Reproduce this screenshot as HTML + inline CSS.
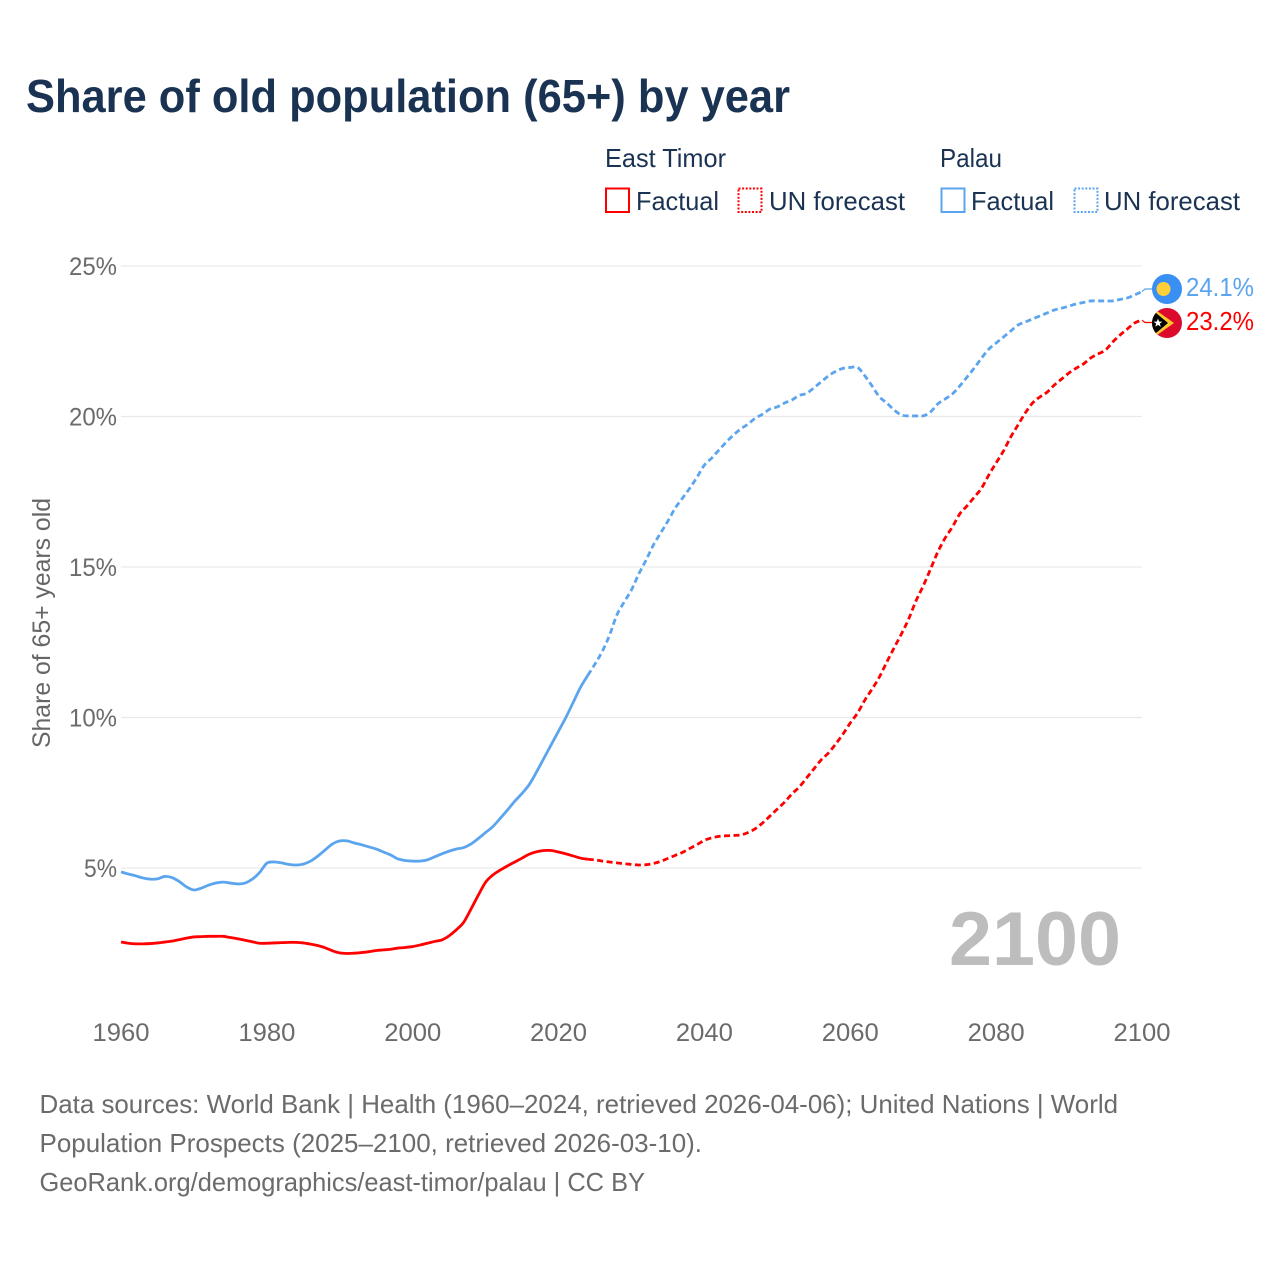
<!DOCTYPE html>
<html lang="en">
<head>
<meta charset="utf-8">
<title>Share of old population (65+) by year</title>
<style>
html,body{margin:0;padding:0;background:#fff;}
svg{display:block;}
text{font-family:"Liberation Sans",sans-serif;}
</style>
</head>
<body>
<svg id="chart" xmlns="http://www.w3.org/2000/svg" width="1280" height="1280" viewBox="0 0 1280 1280">
  <rect x="0" y="0" width="1280" height="1280" fill="#ffffff"/>
  <text x="26" y="112" font-size="46" font-weight="700" fill="#1a3353" textLength="764" lengthAdjust="spacingAndGlyphs">Share of old population (65+) by year</text>

  <g font-size="26" fill="#1a3353">
    <text x="605" y="167" textLength="121" lengthAdjust="spacingAndGlyphs">East Timor</text>
    <text x="940" y="167" textLength="62" lengthAdjust="spacingAndGlyphs">Palau</text>
    <rect x="606" y="188.5" width="23" height="23.5" fill="none" stroke="#ff0000" stroke-width="2"/>
    <text x="636" y="210" textLength="83" lengthAdjust="spacingAndGlyphs">Factual</text>
    <rect x="738.5" y="188.5" width="23" height="23.5" fill="none" stroke="#ff0000" stroke-width="2" stroke-dasharray="2 1.6"/>
    <text x="769" y="210" textLength="136" lengthAdjust="spacingAndGlyphs">UN forecast</text>
    <rect x="941.5" y="188.5" width="23" height="23.5" fill="none" stroke="#5ba4ee" stroke-width="2"/>
    <text x="971" y="210" textLength="83" lengthAdjust="spacingAndGlyphs">Factual</text>
    <rect x="1074.5" y="188.5" width="23" height="23.5" fill="none" stroke="#5ba4ee" stroke-width="2" stroke-dasharray="2 1.6"/>
    <text x="1104" y="210" textLength="136" lengthAdjust="spacingAndGlyphs">UN forecast</text>
  </g>

  <g id="grid"></g>
  <g id="yticks"></g>
  <g id="xticks"></g>
  <text transform="translate(50,623) rotate(-90)" text-anchor="middle" font-size="25" fill="#666666" textLength="250" lengthAdjust="spacingAndGlyphs">Share of 65+ years old</text>
  <text x="949" y="965" font-size="76" font-weight="700" fill="#bdbdbd" textLength="172" lengthAdjust="spacingAndGlyphs">2100</text>

  <g id="series"></g>

  <defs>
    <clipPath id="tl-clip"><circle cx="1167" cy="323" r="15"/></clipPath>
  </defs>
  <g>
    <circle cx="1167" cy="289" r="15" fill="#3a8ff2"/>
    <circle cx="1163.5" cy="289" r="7" fill="#ffcf3a"/>
  </g>
  <g clip-path="url(#tl-clip)">
    <rect x="1150" y="306" width="34" height="34" fill="#dc0a2c"/>
    <polygon points="1150,306 1174,323 1150,340" fill="#ffc72c"/>
    <polygon points="1150,308 1168,323 1150,338" fill="#000000"/>
    <polygon points="1158,318.5 1159.2,321.6 1162.5,321.6 1159.8,323.6 1160.8,326.8 1158,324.9 1155.2,326.8 1156.2,323.6 1153.5,321.6 1156.8,321.6" fill="#ffffff"/>
  </g>
  <text x="1186" y="296" font-size="26" fill="#5ba4ee" textLength="68" lengthAdjust="spacingAndGlyphs">24.1%</text>
  <text x="1186" y="330" font-size="26" fill="#ff0000" textLength="68" lengthAdjust="spacingAndGlyphs">23.2%</text>

  <g font-size="26" fill="#6b6b6b">
    <text x="39.5" y="1113" textLength="1078.5" lengthAdjust="spacingAndGlyphs">Data sources: World Bank | Health (1960–2024, retrieved 2026-04-06); United Nations | World</text>
    <text x="39.5" y="1152" textLength="662.5" lengthAdjust="spacingAndGlyphs">Population Prospects (2025–2100, retrieved 2026-03-10).</text>
    <text x="39.5" y="1191" textLength="605.5" lengthAdjust="spacingAndGlyphs">GeoRank.org/demographics/east-timor/palau | CC BY</text>
  </g>
</svg>
<script>
const startYear = 1960;
const lastFactualYear = 2024;
const yTickValues = [5, 10, 15, 20, 25];
const yTickLabels = ["5%", "10%", "15%", "20%", "25%"];
const xTickYears = [1960, 1980, 2000, 2020, 2040, 2060, 2080, 2100];
const palauValues = [
4.87,4.80,4.74,4.67,4.63,4.64,4.72,4.68,4.55,4.37,
4.27,4.33,4.43,4.50,4.53,4.50,4.47,4.50,4.63,4.85,
5.16,5.20,5.17,5.12,5.10,5.13,5.23,5.40,5.60,5.80,
5.90,5.90,5.83,5.77,5.70,5.63,5.53,5.43,5.30,5.25,
5.23,5.23,5.27,5.37,5.47,5.56,5.63,5.68,5.80,5.98,
6.18,6.38,6.65,6.93,7.22,7.48,7.78,8.20,8.65,9.10,
9.55,10.0,10.5,11.0,11.4,11.78,12.2,12.74,13.41,13.84,
14.24,14.77,15.23,15.73,16.13,16.53,16.96,17.29,17.62,17.99,
18.39,18.62,18.89,19.15,19.39,19.59,19.75,19.95,20.08,20.25,
20.32,20.45,20.55,20.7,20.77,20.95,21.15,21.35,21.5,21.6,
21.63,21.63,21.35,21.01,20.65,20.45,20.22,20.05,20.02,20.02,
20.02,20.15,20.42,20.58,20.75,21.01,21.31,21.61,21.94,22.24,
22.44,22.64,22.84,23.04,23.14,23.24,23.34,23.44,23.54,23.6,
23.67,23.74,23.79,23.84,23.84,23.84,23.84,23.89,23.94,24.04,
24.15];
const eastTimorValues = [
2.54,2.50,2.48,2.48,2.49,2.51,2.54,2.57,2.62,2.67,
2.71,2.72,2.73,2.73,2.73,2.69,2.65,2.60,2.55,2.50,
2.50,2.51,2.52,2.53,2.53,2.51,2.47,2.42,2.35,2.25,
2.18,2.16,2.17,2.19,2.22,2.26,2.28,2.30,2.34,2.36,
2.39,2.44,2.50,2.56,2.61,2.75,2.95,3.20,3.64,4.10,
4.53,4.77,4.93,5.07,5.20,5.33,5.46,5.54,5.58,5.58,
5.53,5.47,5.40,5.33,5.29,5.27,5.23,5.20,5.17,5.14,
5.12,5.10,5.11,5.15,5.22,5.32,5.42,5.52,5.65,5.78,
5.92,6.00,6.05,6.07,6.08,6.10,6.18,6.31,6.50,6.73,
6.96,7.19,7.46,7.69,7.99,8.29,8.59,8.82,9.12,9.45,
9.82,10.15,10.58,10.95,11.35,11.84,12.31,12.77,13.27,13.87,
14.37,14.93,15.5,15.96,16.33,16.76,17.03,17.32,17.62,18.06,
18.46,18.85,19.32,19.72,20.12,20.45,20.65,20.81,21.05,21.25,
21.45,21.61,21.75,21.95,22.08,22.21,22.48,22.71,22.91,23.11,
23.2];

const NS = "http://www.w3.org/2000/svg";
const xScale = function (year) { return 121 + (year - 1960) * (1021 / 140); };
const yScale = function (v) { return 1018.5 - v * 30.1; };

function make(tag, parent, attrs) {
  const el = document.createElementNS(NS, tag);
  for (const k in attrs) el.setAttribute(k, attrs[k]);
  parent.appendChild(el);
  return el;
}

function smoothPath(points) {
  let d = "M" + points[0][0].toFixed(2) + " " + points[0][1].toFixed(2);
  for (let i = 0; i < points.length - 1; i++) {
    const p0 = points[Math.max(i - 1, 0)];
    const p1 = points[i];
    const p2 = points[i + 1];
    const p3 = points[Math.min(i + 2, points.length - 1)];
    const c1x = p1[0] + (p2[0] - p0[0]) / 6;
    const c1y = p1[1] + (p2[1] - p0[1]) / 6;
    const c2x = p2[0] - (p3[0] - p1[0]) / 6;
    const c2y = p2[1] - (p3[1] - p1[1]) / 6;
    d += "C" + c1x.toFixed(2) + " " + c1y.toFixed(2) + " " + c2x.toFixed(2) + " " + c2y.toFixed(2) + " " + p2[0].toFixed(2) + " " + p2[1].toFixed(2);
  }
  return d;
}

function toPoints(values, from, to) {
  const pts = [];
  for (let yr = from; yr <= to; yr++) {
    pts.push([xScale(yr), yScale(values[yr - startYear])]);
  }
  return pts;
}

const gridGroup = document.getElementById("grid");
const yTickGroup = document.getElementById("yticks");
const xTickGroup = document.getElementById("xticks");
const seriesGroup = document.getElementById("series");

yTickValues.forEach(function (v, i) {
  const line = make("line", gridGroup, { x1: 121, x2: 1142, y1: yScale(v), y2: yScale(v), stroke: "#e9e9e9", "stroke-width": 1.2 });
  
  
  const label = make("text", yTickGroup, { x: 117, y: yScale(v) + 9, "text-anchor": "end", "font-size": 25, fill: "#6b6b6b", textLength: 33 + (yTickLabels[i].length - 2) * 15, lengthAdjust: "spacingAndGlyphs" });
  label.textContent = yTickLabels[i];
  
  
});

xTickYears.forEach(function (yr) {
  const label = make("text", xTickGroup, { x: xScale(yr), y: 1041, "text-anchor": "middle", "font-size": 25, fill: "#6b6b6b", textLength: 57, lengthAdjust: "spacingAndGlyphs" });
  label.textContent = String(yr);
  
  
});

const endYear = startYear + palauValues.length - 1;

const palauFactual = make("path", seriesGroup, { d: smoothPath(toPoints(palauValues, startYear, lastFactualYear)), fill: "none", stroke: "#5ba4ee", "stroke-width": 2.8, "stroke-linejoin": "round" });



const palauForecast = make("path", seriesGroup, { d: smoothPath(toPoints(palauValues, lastFactualYear, endYear)), fill: "none", stroke: "#5ba4ee", "stroke-width": 2.8, "stroke-dasharray": "6 3.5" });



const timorFactual = make("path", seriesGroup, { d: smoothPath(toPoints(eastTimorValues, startYear, lastFactualYear)), fill: "none", stroke: "#ff0000", "stroke-width": 2.8, "stroke-linejoin": "round" });



const timorForecast = make("path", seriesGroup, { d: smoothPath(toPoints(eastTimorValues, lastFactualYear, endYear)), fill: "none", stroke: "#ff0000", "stroke-width": 2.8, "stroke-dasharray": "6 3.5" });



const palauLead = make("path", seriesGroup, { d: "M" + xScale(endYear) + " " + yScale(palauValues[palauValues.length - 1]) + "L1145 289L1153 289", fill: "none", stroke: "#5ba4ee", "stroke-width": 1.2 });



const timorLead = make("path", seriesGroup, { d: "M" + xScale(endYear) + " " + yScale(eastTimorValues[eastTimorValues.length - 1]) + "L1145 322.5L1153 322.5", fill: "none", stroke: "#ff0000", "stroke-width": 1.2 });


</script>
</body>
</html>
